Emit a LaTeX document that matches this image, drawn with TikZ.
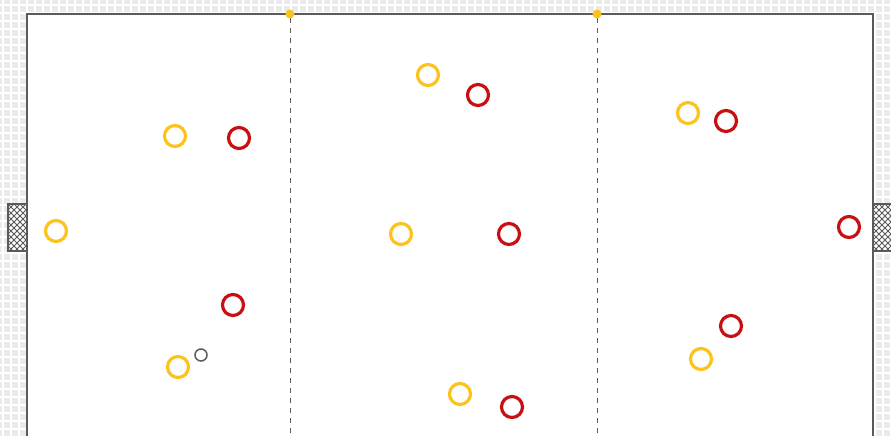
\documentclass[tikz,border=0pt]{standalone}
\usepackage{tikz}
\definecolor{pitchline}{HTML}{5A5A5A}
\definecolor{teamyellow}{HTML}{FBC31C}
\definecolor{teamred}{HTML}{C80F12}
\definecolor{gridbg}{HTML}{EBEBEB}
\newcommand{\goalnet}[4]{%
  \fill[white] (#1,#2) rectangle (#3,#4);
  \begin{scope}
    \clip (#1,#2) rectangle (#3,#4);
    \foreach \d in {-60,-54,...,60} {
      \draw[pitchline,line width=0.9pt] (#1+\d,#2) -- ++(60,60);
      \draw[pitchline,line width=0.9pt] (#1+\d,#2) -- ++(-60,60);
    }
  \end{scope}
  \draw[pitchline,line width=1.2pt] (#1,#2) rectangle (#3,#4);}
\begin{document}
\begin{tikzpicture}[x=1pt,y=-1pt]
\useasboundingbox (0,0) rectangle (891,436);
\fill[gridbg] (0,0) rectangle (891,436);
\foreach \g in {0,8,...,888} \draw[white,line width=1.4pt] (\g+3,0) -- (\g+3,436);
\foreach \g in {0,8,...,432} \draw[white,line width=1.4pt] (0,\g+5) -- (891,\g+5);
% goals
\goalnet{8}{204}{27}{251}
\goalnet{873}{204}{895}{251}
% field
\draw[pitchline,line width=1.5pt,fill=white] (27,445) -- (27,14) -- (873,14) -- (873,445);
\draw[pitchline,dash pattern=on 5pt off 5pt] (290,18) -- (290,436);
\draw[pitchline,dash pattern=on 5pt off 5pt] (597,18) -- (597,436);
\fill[teamyellow] (290,14) circle (4.5);
\fill[teamyellow] (597,14) circle (4.5);
% players
\foreach \x/\y in {175/136,56/231,178/367,428/75,401/234,460/394,688/113,701/359}
  \draw[teamyellow,line width=3.2pt] (\x,\y) circle (10.5);
\foreach \x/\y in {239/138,233/305,478/95,509/234,512/407,726/121,849/227,731/326}
  \draw[teamred,line width=3.2pt] (\x,\y) circle (10.5);
% ball
\draw[pitchline,line width=1.5pt] (201,355) circle (6);
\end{tikzpicture}
\end{document}
